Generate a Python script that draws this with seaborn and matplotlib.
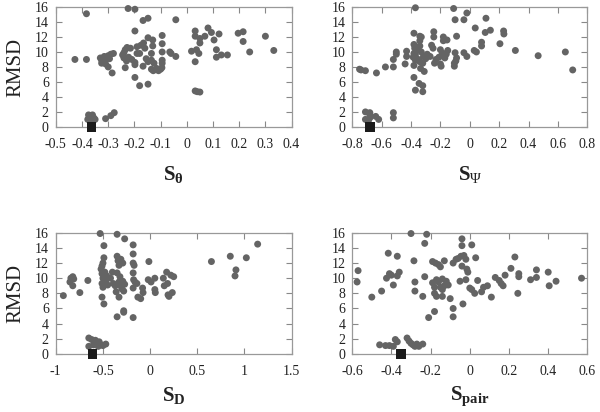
import matplotlib
matplotlib.use("Agg")
import matplotlib.pyplot as plt
import seaborn as sns
import pandas as pd

# ---------------- data ----------------
theta_x = [-0.383, -0.427, -0.383,
           -0.33, -0.325, -0.315, -0.30, -0.29, -0.28, -0.325, -0.31, -0.30, -0.285, -0.31, -0.295,
           -0.224, -0.198, -0.167, -0.148, -0.198, -0.042,
           -0.235, -0.228, -0.24, -0.245, -0.24, -0.23, -0.222, -0.215, -0.21, -0.235,
           -0.198, -0.198, -0.19, -0.19, -0.175, -0.165, -0.198, -0.18, -0.148,
           -0.148, -0.13, -0.13, -0.135, -0.155, -0.148, -0.135, -0.125, -0.167, -0.135, -0.128, -0.115, -0.108, -0.10, -0.095, -0.18, -0.16,
           -0.094, -0.094, -0.094, -0.094, -0.094, -0.065, -0.06, -0.042,
           0.018, 0.032, 0.032, 0.037, 0.032, 0.046, 0.05, 0.05, 0.069,
           0.032, 0.04, 0.05,
           0.081, 0.094, 0.104, 0.123, 0.113, 0.113, 0.132, 0.155,
           0.196, 0.215, 0.215, 0.24, 0.30, 0.332,
           -0.378, -0.372, -0.368, -0.36, -0.355, -0.365, -0.35, -0.375,
           -0.31, -0.29, -0.277]
theta_y = [15.1, 9.0, 9.0,
           9.2, 8.9, 9.4, 9.5, 9.7, 9.8, 8.5, 8.4, 8.0, 7.2, 9.0, 9.1,
           15.8, 15.7, 14.2, 14.5, 12.8, 14.3,
           10.3, 10.6, 9.9, 9.6, 9.2, 8.8, 9.3, 10.5, 9.0, 7.9,
           8.3, 8.6, 9.8, 10.7, 10.9, 11.2, 6.6, 5.5, 5.7,
           11.9, 11.6, 10.8, 9.8, 9.1, 8.7, 8.9, 8.5, 8.1, 7.7, 7.5, 7.8, 7.5, 7.7, 7.9, 9.8, 10.5,
           12.2, 11.1, 10.0, 8.9, 8.5, 10.0, 9.8, 9.4,
           10.1, 12.8, 12.1, 10.3, 8.7, 9.8, 11.2, 11.8, 12.1,
           4.8, 4.7, 4.65,
           13.2, 12.6, 11.6, 12.4, 10.3, 9.3, 9.6, 9.6,
           12.5, 12.7, 11.4, 10.0, 12.1, 10.2,
           1.0, 1.3, 1.5, 1.6, 1.2, 0.9, 1.0, 1.6,
           1.1, 1.5, 1.9]

psi_x = [-0.75, -0.74, -0.71, -0.635, -0.574, -0.52, -0.52, -0.50, -0.50,
         -0.44, -0.43, -0.43, -0.37, -0.38,
         -0.38, -0.375, -0.38, -0.385, -0.37, -0.38, -0.36, -0.37,
         -0.38, -0.37, -0.345, -0.32, -0.32,
         -0.34, -0.33, -0.34, -0.34, -0.32, -0.31, -0.335,
         -0.33, -0.315, -0.30, -0.29, -0.27, -0.35, -0.34,
         -0.245, -0.245, -0.26, -0.25, -0.23, -0.24,
         -0.20, -0.19, -0.20, -0.195, -0.17, -0.18, -0.21,
         -0.18, -0.18, -0.155, -0.16, -0.15,
         -0.11, -0.10, -0.09, -0.105, -0.105, -0.10, -0.09, -0.095,
         -0.04, -0.02, -0.04, -0.02,
         0.037, 0.03, 0.045, 0.08, 0.08, 0.105, 0.11, 0.14,
         0.205, 0.23, 0.232, 0.31, 0.465, 0.65, 0.70,
         -0.71, -0.68, -0.71, -0.68, -0.68, -0.64, -0.62, -0.69, -0.52, -0.52]
psi_y = [7.7, 7.6, 7.5, 7.2, 8.0, 8.0, 9.0, 10.0, 9.7,
         8.4, 9.4, 10.1, 15.9, 12.5,
         11.0, 10.5, 9.8, 9.3, 8.9, 8.2, 10.2, 9.6,
         6.6, 4.9, 5.8, 5.5, 4.7,
         12.1, 12.0, 11.5, 10.8, 8.5, 7.4, 7.8,
         10.0, 9.4, 9.1, 9.7, 9.4, 9.0, 8.7,
         12.7, 12.0, 10.9, 10.5, 9.0, 8.5,
         10.3, 9.6, 8.4, 8.1, 9.2, 9.8, 9.3,
         12.0, 11.5, 11.6, 9.7, 10.2,
         15.8, 14.3, 12.1, 8.5, 8.1, 9.9, 9.2, 8.8,
         14.3, 15.2, 9.9, 9.4,
         13.2, 10.2, 10.0, 11.3, 10.8, 12.6, 14.5, 12.9,
         11.1, 12.8, 12.4, 10.2, 9.5, 10.0, 7.6,
         2.0, 1.9, 1.0, 1.2, 1.6, 1.4, 1.0, 0.8, 1.9, 1.2]

d_x = [-0.92, -0.85, -0.84, -0.82, -0.81, -0.82, -0.745, -0.66,
       -0.53, -0.49,
       -0.49, -0.50, -0.51, -0.52, -0.51, -0.50, -0.51, -0.50, -0.51, -0.49, -0.48, -0.47, -0.46, -0.45,
       -0.35, -0.27,
       -0.35, -0.34, -0.33, -0.31, -0.29,
       -0.40, -0.42, -0.39, -0.37, -0.36, -0.33, -0.31, -0.30, -0.29, -0.28, -0.27, -0.32, -0.35,
       -0.33, -0.35, -0.28, -0.28,
       -0.18, -0.18, -0.18, -0.17, -0.18, -0.175, -0.18, -0.18,
       -0.14, -0.13, -0.10, -0.08, -0.075, -0.16,
       -0.013, -0.02, 0.01, 0.05, 0.05, 0.055,
       0.14, 0.15, 0.175, 0.185, 0.19, 0.22, 0.235, 0.25, 0.20,
       0.65, 0.85, 0.90, 0.91, 1.02, 1.14,
       -0.65, -0.62, -0.58, -0.56, -0.54, -0.52, -0.50, -0.47, -0.60, -0.65, -0.55]
d_y = [7.7, 9.5, 10.0, 10.2, 9.9, 9.0, 8.1, 9.7,
       15.9, 14.3,
       12.7, 12.0, 11.6, 11.2, 10.6, 10.0, 9.3, 8.8, 7.5, 6.6, 10.8, 9.7, 10.3, 9.1,
       15.8, 15.2,
       12.9, 12.3, 11.7, 12.5, 12.0,
       10.8, 10.0, 9.3, 9.0, 8.2, 9.5, 9.0, 8.6, 9.6, 8.3, 9.2, 10.2, 10.7,
       7.5, 4.9, 5.7, 5.5,
       14.4, 13.2, 12.0, 11.7, 10.7, 9.8, 8.7, 4.8,
       9.3, 7.5, 7.3, 8.7, 8.1, 9.5,
       12.2, 9.8, 9.5, 10.0, 8.5, 8.1,
       10.0, 9.0, 10.8, 9.3, 7.8, 10.4, 8.1, 10.2, 7.6,
       12.2, 12.9, 10.3, 11.1, 12.7, 14.5,
       2.1, 1.9, 1.8, 1.4, 1.6, 1.2, 1.1, 1.3, 1.2, 1.0, 1.0]

pair_x = [-0.57, -0.575, -0.50, -0.45, -0.416, -0.425, -0.41, -0.40, -0.39, -0.37, -0.37, -0.36,
          -0.30, -0.285, -0.28, -0.28, -0.24, -0.23, -0.23, -0.22, -0.21,
          -0.19, -0.175, -0.16, -0.15, -0.18,
          -0.19, -0.18, -0.18, -0.17, -0.16, -0.15, -0.14, -0.13, -0.12, -0.11, -0.17, -0.14,
          -0.13, -0.14, -0.10, -0.085, -0.085, -0.085, -0.07, -0.06, -0.05,
          -0.04, -0.04, -0.045, -0.04, -0.035, -0.03, -0.02, -0.02, -0.015, -0.01,
          0.01, 0.00, 0.01, 0.03, 0.025, 0.04, 0.06, 0.07, 0.09, 0.11,
          0.13, 0.15, 0.16, 0.17, 0.18, 0.21, 0.23, 0.245, 0.25, 0.25,
          0.31, 0.34, 0.34, 0.40, 0.405, 0.44, 0.57,
          -0.46, -0.43, -0.41, -0.39, -0.38, -0.37, -0.32, -0.31, -0.30, -0.29, -0.28, -0.27, -0.26, -0.24]
pair_y = [11.0, 9.5, 7.5, 8.3, 13.3, 10.0, 10.6, 10.4, 9.1, 12.9, 10.3, 10.8,
          15.9, 12.3, 9.5, 8.3, 7.6, 10.2, 14.6, 15.8, 4.8,
          12.2, 12.0, 11.8, 11.5, 5.6,
          9.4, 8.8, 8.0, 7.6, 9.5, 8.8, 9.9, 9.0, 9.6, 9.1, 9.8, 8.5,
          12.3, 7.6, 7.3, 12.0, 6.0, 4.9, 12.5, 12.6, 9.6,
          15.2, 14.3, 12.9, 11.6, 6.6, 13.0, 12.5, 9.8, 11.2, 10.8,
          14.4, 8.7, 8.5, 12.7, 8.0, 9.7, 8.2, 8.8, 9.0, 7.5,
          10.1, 9.7, 9.3, 9.0, 10.4, 11.3, 12.8, 8.0, 10.6, 10.2,
          9.8, 11.1, 10.1, 10.8, 9.0, 9.6, 10.0,
          1.2, 1.1, 1.1, 1.0, 1.9, 1.6, 2.1, 1.7, 1.4, 1.2, 1.0, 1.3, 1.0, 1.3]

native_x = [-0.364, -0.68, -0.61, -0.35]
native_y = [0.0, 0.0, 0.0, 0.0]

theta_ticks = [-0.5, -0.4, -0.3, -0.2, -0.1, 0, 0.1, 0.2, 0.3, 0.4]
theta_labels = ["-0.5", "-0.4", "-0.3", "-0.2", "-0.1", "0", "0.1", "0.2", "0.3", "0.4"]
psi_ticks = [-0.8, -0.6, -0.4, -0.2, 0, 0.2, 0.4, 0.6, 0.8]
psi_labels = ["-0.8", "-0.6", "-0.4", "-0.2", "0", "0.2", "0.4", "0.6", "0.8"]
d_ticks = [-1, -0.5, 0, 0.5, 1, 1.5]
d_labels = ["-1", "-0.5", "0", "0.5", "1", "1.5"]
pair_ticks = [-0.6, -0.4, -0.2, 0, 0.2, 0.4, 0.6]
pair_labels = ["-0.6", "-0.4", "-0.2", "0", "0.2", "0.4", "0.6"]
y_ticks = [0, 2, 4, 6, 8, 10, 12, 14, 16]

x_titles = [r"$\mathbf{S}_{\mathbf{\theta}}$", r"$\mathbf{S}_{\Psi}$",
            r"$\mathbf{S}_{\mathbf{D}}$", r"$\mathbf{S}_{\mathbf{pair}}$"]

# ---------------- style ----------------
sns.set_theme(style="white")
plt.rcParams["font.family"] = ["Liberation Serif", "DejaVu Serif"]
plt.rcParams["mathtext.fontset"] = "custom"
plt.rcParams["mathtext.rm"] = "Liberation Serif"
plt.rcParams["mathtext.it"] = "Liberation Serif"
plt.rcParams["mathtext.bf"] = "Liberation Serif:bold"
plt.rcParams["axes.unicode_minus"] = False

fig = plt.figure(figsize=(6.0, 4.12), dpi=100)
positions = [
    [0.093, 0.692, 0.393, 0.291],
    [0.587, 0.692, 0.392, 0.291],
    [0.093, 0.141, 0.393, 0.294],
    [0.587, 0.141, 0.392, 0.294],
]
panels = [
    (theta_x, theta_y, theta_ticks, theta_labels),
    (psi_x, psi_y, psi_ticks, psi_labels),
    (d_x, d_y, d_ticks, d_labels),
    (pair_x, pair_y, pair_ticks, pair_labels),
]

for i, (pos, (xs, ys, xt, xl)) in enumerate(zip(positions, panels)):
    ax = fig.add_axes(pos)
    df = pd.DataFrame({"s": xs, "rmsd": ys})
    sns.scatterplot(data=df, x="s", y="rmsd", ax=ax, color="#646464",
                    s=25, edgecolor="none", linewidth=0, clip_on=False, zorder=3)
    nat = pd.DataFrame({"s": [native_x[i]], "rmsd": [native_y[i]]})
    sns.scatterplot(data=nat, x="s", y="rmsd", ax=ax, color="#1a1a1a", marker="s",
                    s=50, edgecolor="none", linewidth=0, clip_on=False, zorder=4)
    ax.set_xlim(xt[0], xt[-1])
    ax.set_ylim(0, 16)
    ax.set_xticks(xt)
    ax.set_xticklabels(xl)
    ax.set_yticks(y_ticks)
    ax.set_yticklabels([str(v) for v in y_ticks])
    ax.tick_params(direction="in", length=4, width=0.8, color="#888888",
                   top=True, right=True, bottom=True, left=True,
                   labelsize=10, labelcolor="#222222")
    ax.tick_params(axis="x", pad=8)
    ax.tick_params(axis="y", pad=5)
    for sp in ax.spines.values():
        sp.set_color("#999999")
        sp.set_linewidth(0.9)
    ax.set_xlabel(x_titles[i], fontsize=15, labelpad=(9 if i < 2 else 5), color="#222222")
    if i % 2 == 0:
        ax.set_ylabel("RMSD", fontsize=15, labelpad=7, color="#222222")
    else:
        ax.set_ylabel("")

fig.savefig("out.png", dpi=100)
